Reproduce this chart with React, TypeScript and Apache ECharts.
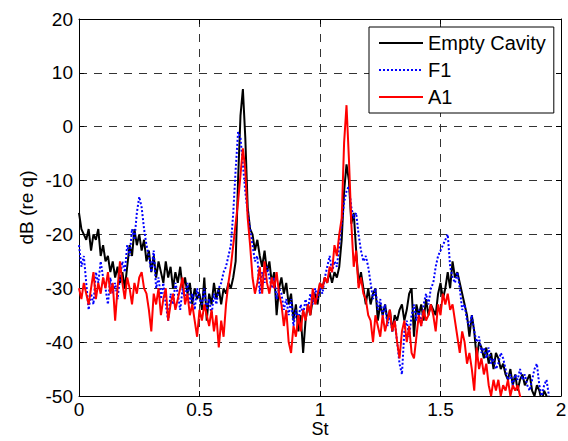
import React, { useEffect, useRef } from "react";
import * as echarts from "echarts";

// Sample grid step for Strouhal number (St = index * STEP)
const STEP = 0.01;

const xTicks = [0, 0.5, 1, 1.5, 2];
const yTicks = [-50, -40, -30, -20, -10, 0, 10, 20];

const seriesNames = ["Empty Cavity", "F1", "A1"];

// Empty Cavity (dB re q), St = 0.00 .. 1.95
const emptyCavity = [
  -16, -19, -20, -21, -19, -23, -20, -21, -19, -24,
  -22, -25, -24, -27, -25, -28, -26, -29, -27, -30,
  -26, -22, -24, -19, -22, -20, -23, -21, -25, -23,
  -27, -24, -28, -25, -27, -29, -25, -28, -26, -30,
  -27, -29, -26, -30, -28, -31, -29, -33, -30, -32,
  -31, -34, -28, -36, -31, -33, -29, -32, -30, -33,
  -30, -31, -29, -30, -28, -25, -10, 2, 7, -2,
  -15, -19, -20, -23, -21, -24, -26, -23, -27, -25,
  -29, -27, -35, -30, -28, -31, -29, -33, -31, -36,
  -33, -38, -35, -42, -36, -33, -35, -32, -31, -33,
  -29, -30, -28, -29, -27, -29, -27, -28, -26, -21,
  -12, -7, -10, -18, -16, -23, -29, -27, -30, -33,
  -30, -33, -31, -30, -36, -33, -35, -33, -36, -34,
  -38, -35, -36, -34, -33, -36, -34, -31, -30, -39,
  -33, -35, -33, -36, -32, -35, -33, -34, -35, -31,
  -29, -32, -30, -27, -30, -25, -28, -27, -29, -31,
  -33, -35, -39, -35, -38, -43, -40, -41, -43, -41,
  -44, -42, -45, -42, -43, -45, -44, -46, -47, -45,
  -48, -46, -49, -47, -46, -48, -47, -46, -49, -50,
  -48, -49, -51, -49, -50, -51,
];

// F1 (dB re q), St = 0.00 .. 1.95
const f1 = [
  -22, -26, -24, -29, -34, -31, -33, -27, -29, -25,
  -28, -30, -33, -28, -31, -29, -32, -28, -25, -27,
  -22, -24, -19, -21, -16, -13, -15, -19, -22, -24,
  -27, -23, -30, -28, -32, -29, -33, -36, -31, -33,
  -29, -31, -34, -30, -32, -29, -33, -31, -34, -30,
  -32, -33, -30, -34, -32, -35, -31, -33, -30, -29,
  -27, -26, -24, -22, -16, -8, -1, -2, -7, -12,
  -16, -19, -22, -25, -24, -31, -27, -29, -26, -28,
  -30, -28, -32, -30, -31, -34, -32, -35, -32, -37,
  -34, -36, -33, -35, -32, -34, -31, -33, -30, -32,
  -30, -31, -28, -26, -24, -27, -25, -26, -22, -18,
  -14, -12, -11, -15, -17, -16, -20, -23, -25, -24,
  -26, -29, -32, -30, -34, -32, -35, -33, -37, -35,
  -38, -36, -40, -44, -46, -38, -36, -39, -35, -33,
  -36, -34, -37, -33, -31, -33, -30, -29, -26, -24,
  -23, -22, -21, -20, -26, -28, -29, -27, -30, -34,
  -33, -36, -37, -35, -38, -40, -39, -42, -41, -43,
  -41, -44, -43, -45, -44, -42, -43, -45, -47, -46,
  -48, -46, -47, -45, -47, -46, -48, -49, -47, -45,
  -44, -48, -50, -48, -47, -50,
];

// A1 (dB re q), St = 0.00 .. 1.84
const a1 = [
  -30, -32, -29, -31, -33, -30, -27, -32, -29, -31,
  -28, -30, -27, -31, -29, -36, -30, -25, -29, -32,
  -28, -30, -33, -29, -31, -28, -27, -30, -31, -34,
  -38, -31, -33, -30, -35, -32, -30, -36, -33, -31,
  -34, -32, -30, -28, -33, -31, -35, -33, -36, -39,
  -34, -36, -33, -35, -37, -34, -38, -35, -41, -36,
  -39, -33, -29, -26, -22, -18, -14, -9, -4, -8,
  -17, -22, -28, -31, -29, -26, -31, -25, -29, -31,
  -28, -30, -27, -31, -33, -37, -34, -40, -42, -37,
  -39, -35, -38, -34, -36, -33, -35, -30, -33, -31,
  -29, -30, -28, -29, -26, -27, -22, -24, -20, -17,
  -3, 4, -6, -18, -26, -23, -30, -28, -31, -32,
  -35, -36, -40, -35, -37, -39, -35, -38, -36, -34,
  -38, -36, -40, -43, -38, -36, -40, -37, -42, -43,
  -39, -35, -37, -34, -36, -35, -33, -35, -38, -33,
  -35, -31, -33, -31, -34, -33, -36, -39, -42, -38,
  -40, -44, -42, -45, -49, -41, -45, -43, -46, -44,
  -48, -50, -47, -49, -47, -50, -48, -49, -47, -50,
  -48, -49, -48, -50, -51,
];

const colors = ["#000000", "#0000ff", "#ff0000"];
const FONT = "Liberation Sans, Arial, Helvetica, sans-serif";

const toPairs = (arr: number[]) => arr.map((v, i) => [+(i * STEP).toFixed(2), v]);

export default function App() {
  const ref = useRef<HTMLDivElement>(null);

  useEffect(() => {
    if (!ref.current) return;
    const chart = echarts.init(ref.current, undefined, { renderer: "svg", width: 568, height: 441 });

    const axisLine = { show: true, onZero: false, lineStyle: { color: "#000", width: 1 } };
    const axisTick = { show: true, inside: true, length: 5, lineStyle: { color: "#000", width: 1 } };
    const splitLine = { show: true, lineStyle: { color: "#333", width: 1, type: [8, 7] as any } };
    const label = { color: "#000", fontSize: 19, fontFamily: FONT };

    const xMin = xTicks[0];
    const xMax = xTicks[xTicks.length - 1];
    const xInt = xTicks[1] - xTicks[0];
    const yMin = yTicks[0];
    const yMax = yTicks[yTicks.length - 1];
    const yInt = yTicks[1] - yTicks[0];

    const datasets = [emptyCavity, f1, a1];

    chart.setOption({
      animation: false,
      backgroundColor: "#fff",
      grid: {
        left: 79,
        right: 7,
        top: 19,
        bottom: 45,
        containLabel: false,
        outerBoundsMode: "none",
      },
      legend: {
        orient: "vertical",
        left: 369,
        top: 27,
        data: seriesNames,
        itemWidth: 44,
        itemHeight: 14,
        itemGap: 7,
        itemStyle: { opacity: 0 },
        padding: [6, 8, 6, 9],
        backgroundColor: "#fff",
        borderColor: "#000",
        borderWidth: 1,
        borderRadius: 0,
        textStyle: { color: "#000", fontSize: 20, fontFamily: FONT, lineHeight: 20 },
      },
      xAxis: [
        {
          type: "value",
          min: xMin,
          max: xMax,
          interval: xInt,
          position: "bottom",
          axisLine,
          axisTick,
          splitLine,
          axisLabel: { ...label, margin: 4 },
          name: "St",
          nameLocation: "middle",
          nameGap: 24,
          nameMoveOverlap: false,
          nameTextStyle: { color: "#000", fontSize: 18, lineHeight: 18, fontFamily: FONT },
        },
        {
          type: "value",
          min: xMin,
          max: xMax,
          interval: xInt,
          position: "top",
          axisLine,
          axisTick,
          splitLine: { show: false },
          axisLabel: { show: false },
        },
      ],
      yAxis: [
        {
          type: "value",
          min: yMin,
          max: yMax,
          interval: yInt,
          position: "left",
          axisLine,
          axisTick,
          splitLine,
          axisLabel: { ...label, margin: 6 },
          name: "dB (re q)",
          nameLocation: "middle",
          nameGap: 43,
          nameRotate: 90,
          nameMoveOverlap: false,
          nameTextStyle: { color: "#000", fontSize: 19, fontFamily: FONT },
        },
        {
          type: "value",
          min: yMin,
          max: yMax,
          interval: yInt,
          position: "right",
          axisLine,
          axisTick,
          splitLine: { show: false },
          axisLabel: { show: false },
        },
      ],
      series: seriesNames.map((name, k) => ({
        name,
        type: "line",
        xAxisIndex: 0,
        yAxisIndex: 0,
        data: toPairs(datasets[k]),
        symbol: "none",
        showSymbol: false,
        clip: true,
        color: colors[k],
        lineStyle: {
          color: colors[k],
          width: 2,
          type: k === 1 ? ([2, 2] as any) : "solid",
        },
        z: 2 + k,
      })),
    });

    return () => chart.dispose();
  }, []);

  return (
    <div
      ref={ref}
      style={{ position: "fixed", left: 0, top: 0, width: 568, height: 441 }}
    />
  );
}
